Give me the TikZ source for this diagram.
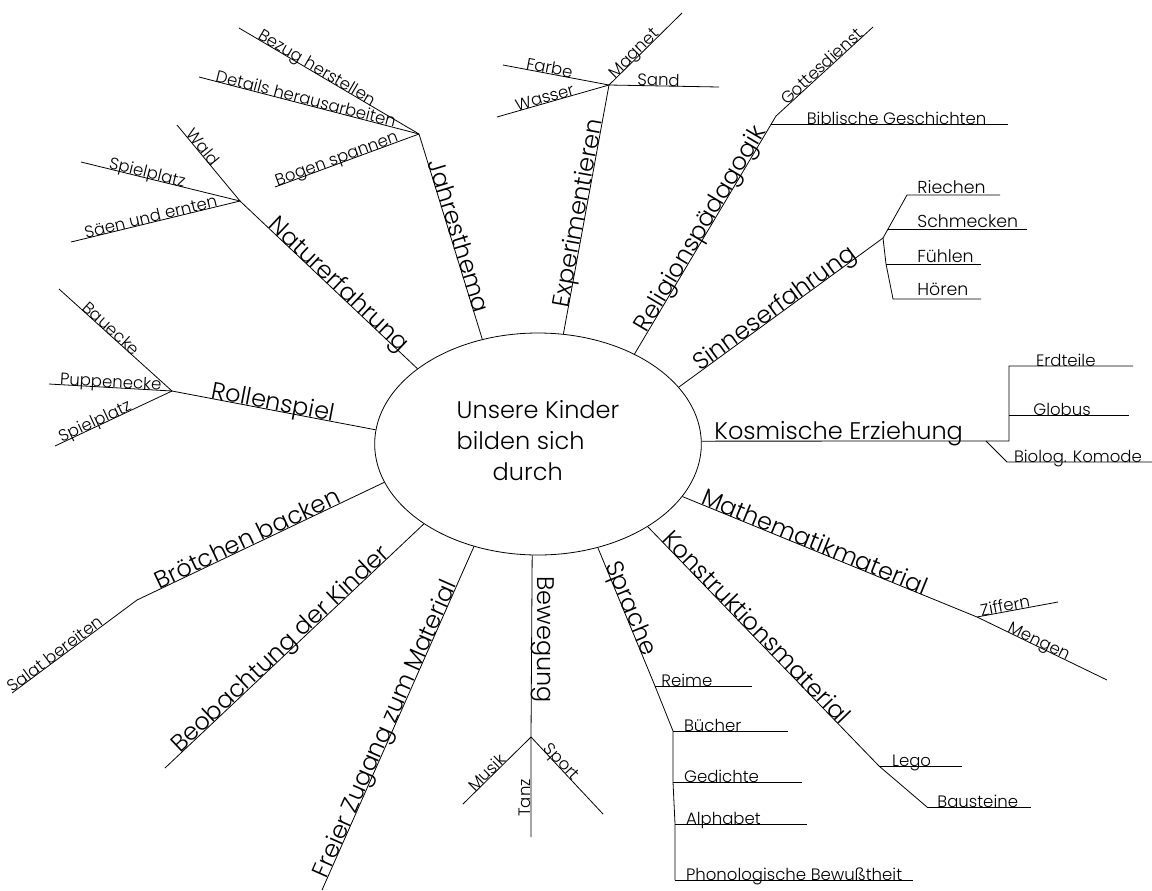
\documentclass[tikz,border=0pt]{standalone}
\usepackage{fontspec}
\IfFontExistsTF{Poppins Light}{\setmainfont{Poppins Light}}{\setmainfont{Poppins}}
\usetikzlibrary{shapes.geometric}
\tikzset{hub/.style = {draw, ellipse, minimum width = 245pt, minimum height = 166.5pt, inner sep = 0, align = left, font = \fontsize{18}{23.25}\selectfont}}
\tikzset{bough/.style = {inner sep = 0, font = \fontsize{18}{21}\selectfont}}
\tikzset{twig/.style = {inner sep = 0, font = \fontsize{12.4}{15}\selectfont}}
\tikzset{along/.style = {sloped, anchor = base}}
\tikzset{flat/.style = {anchor = base west}}

\begin{document}
\begin{tikzpicture}[x = 0.75pt, y = -0.75pt, line width = 0.6pt]
  \useasboundingbox (0, 0) rectangle (1152, 890);
  \node [hub] (hub) at (538, 444) {Unsere Kinder\\bilden sich\\\hspace*{27pt}durch\vspace*{5pt}};

  % Jahresthema
  \coordinate (J1) at (419, 134);
  \coordinate (JBz) at (239, 28);
  \coordinate (JDt) at (199, 77);
  \coordinate (JBg) at (275, 187);
  \draw (J1) -- node (lJ) [bough, along, pos = 0.51] {Jahresthema} (hub.118);
  \draw (JBz) -- node (lJBz) [twig, along, pos = 0.42] {Bezug herstellen} (J1);
  \draw (JDt) -- node (lJDt) [twig, along, pos = 0.48] {Details herausarbeiten} (J1);
  \draw (JBg) -- node (lJBg) [twig, along, pos = 0.44] {Bogen spannen} (J1);

  % Naturerfahrung
  \coordinate (N1) at (240, 201);
  \coordinate (NWd) at (177, 125);
  \coordinate (NSp) at (81, 162);
  \coordinate (NSa) at (71, 242);
  \draw (N1) -- node (lN) [bough, along, pos = 0.53] {Naturerfahrung} (hub.148.5);
  \draw (NWd) -- node (lNWd) [twig, along, pos = 0.34] {Wald} (N1);
  \draw (NSp) -- node (lNSp) [twig, along, pos = 0.41] {Spielplatz} (N1);
  \draw (NSa) -- node (lNSa) [twig, along, pos = 0.48] {Säen und ernten} (N1);

  % Rollenspiel
  \coordinate (R1) at (172, 391);
  \coordinate (RBa) at (59, 289);
  \coordinate (RPu) at (49, 384);
  \coordinate (RSp) at (55, 446);
  \draw (R1) -- node (lR) [bough, along, pos = 0.49] {Rollenspiel} (hub.175);
  \draw (RBa) -- node (lRBa) [twig, along, pos = 0.43] {Bauecke} (R1);
  \draw (RPu) -- node (lRPu) [twig, along, pos = 0.5] {Puppenecke} (R1);
  \draw (RSp) -- node (lRSp) [twig, along, pos = 0.36] {Spielplatz} (R1);

  % Broetchen backen
  \coordinate (B1) at (137, 600);
  \coordinate (BSa) at (12, 693);
  \draw (B1) -- node (lB) [bough, along, pos = 0.46] {Brötchen backen} (hub.194.7);
  \draw (BSa) -- node (lBSa) [twig, along, pos = 0.37] {Salat bereiten} (B1);

  % Beobachtung, freier Zugang
  \coordinate (O1) at (165, 768);
  \coordinate (F1) at (322, 890);
  \draw (O1) -- node (lO) [bough, along, pos = 0.465] {Beobachtung der Kinder} (hub.215.1);
  \draw (F1) -- node (lF) [bough, along, pos = 0.46] {Freier Zugang zum Material} (hub.238.7);

  % Bewegung
  \coordinate (W1) at (531, 737);
  \coordinate (W2) at (531, 837);
  \coordinate (WMu) at (463, 804);
  \coordinate (WSp) at (603, 814);
  \draw (hub.267.6) -- (W1) -- (W2);
  \node (lW) [bough, flat, rotate = -90] at (537, 576) {Bewegung};
  \node (lWTa) [twig, flat, rotate = 90] at (530, 817) {Tanz};
  \draw (WMu) -- node (lWMu) [twig, along, pos = 0.41] {Musik} (W1);
  \draw (W1) -- node (lWSp) [twig, along, pos = 0.37] {Sport} (WSp);

  % Sprache
  \coordinate (SRe) at (655, 686);
  \coordinate (SReE) at (752, 686);
  \coordinate (SPh) at (675, 880);
  \draw (hub.300.4) -- node (lS) [bough, along, pos = 0.46] {Sprache} (SRe);
  \draw (SRe) -- node (lSRe) [twig, flat, at start, xshift = 4.5pt] {Reime} (SReE);
  \foreach \nm/\y/\xa/\xb/\txt in {Bu/731/673/788/Bücher, Ge/782/673/802/Gedichte,
      Al/824/675/807/Alphabet, Ph/880/675/913/{Phonologische Bewußtheit}} {
    \coordinate (S\nm) at (\xa, \y);
    \coordinate (S\nm E) at (\xb, \y);
    \draw (S\nm) -- node (lS\nm) [twig, flat, at start, xshift = 8pt] {\txt} (S\nm E);
  }
  \draw (SRe) -- (SBu) -- (SGe) -- (SAl) -- (SPh);

  % Konstruktionsmaterial
  \coordinate (K1) at (879, 766);
  \coordinate (K2) at (927, 807);
  \coordinate (KLe) at (962, 766);
  \coordinate (KBa) at (1031, 807);
  \draw (hub.323.1) -- node (lK) [bough, along, pos = 0.445] {Konstruktionsmaterial} (K1) -- (K2);
  \draw (K1) -- node (lKLe) [twig, flat, at start, xshift = 9.5pt] {Lego} (KLe);
  \draw (K2) -- node (lKBa) [twig, flat, at start, xshift = 7.5pt] {Bausteine} (KBa);

  % Mathematikmaterial
  \coordinate (M1) at (977, 617);
  \coordinate (M2) at (1107, 680);
  \coordinate (MZi) at (1058, 602);
  \draw (hub.340.9) -- node (lM) [bough, along, pos = 0.44] {Mathematikmaterial} (M1)
    -- node (lMMe) [twig, along, pos = 0.46] {Mengen} (M2);
  \draw (M1) -- node (lMZi) [twig, along, pos = 0.36] {Ziffern} (MZi);

  % Kosmische Erziehung
  \coordinate (E1) at (1009, 441);
  \coordinate (EEr) at (1009, 366);
  \coordinate (EErE) at (1133, 366);
  \coordinate (EGl) at (1009, 415);
  \coordinate (EGlE) at (1129, 415);
  \coordinate (EBi) at (986, 441);
  \coordinate (EBi1) at (1007, 462);
  \coordinate (EBiE) at (1152, 462);
  \draw (hub.1.1) -- (E1) -- (EEr) -- node (lEEr) [twig, flat, at start, xshift = 20pt] {Erdteile} (EErE);
  \node (lE) [bough, flat] at (714, 439) {Kosmische Erziehung};
  \draw (EGl) -- node (lEGl) [twig, flat, at start, xshift = 18pt] {Globus} (EGlE);
  \draw (EBi) -- (EBi1) -- node (lEBi) [twig, flat, at start, xshift = 5pt] {Biolog. Komode} (EBiE);

  % Sinneserfahrung
  \coordinate (SN1) at (883, 238);
  \coordinate (SNa) at (888, 229);
  \coordinate (SNr) at (907, 195);
  \coordinate (SNrE) at (1000, 195);
  \coordinate (SNaE) at (1027, 229);
  \coordinate (SNf) at (886, 264);
  \coordinate (SNfE) at (981, 264);
  \coordinate (SNh) at (893, 299);
  \coordinate (SNhE) at (981, 299);
  \draw (hub.22.4) -- node (lSN) [bough, along, pos = 0.49] {Sinneserfahrung} (SN1);
  \draw (SN1) -- (SNa) -- (SNr) -- (SNrE);
  \draw (SNa) -- (SNaE);
  \draw (SN1) -- (SNf) -- (SNh) -- (SNhE);
  \draw (SNf) -- (SNfE);
  \node (lSNr) [twig, flat, font = \fontsize{13}{15}\selectfont] at (917, 193) {Riechen};
  \node (lSNa) [twig, flat, font = \fontsize{13}{15}\selectfont] at (917, 227) {Schmecken};
  \node (lSNf) [twig, flat, font = \fontsize{13}{15}\selectfont] at (917, 262) {Fühlen};
  \node (lSNh) [twig, flat, font = \fontsize{13}{15}\selectfont] at (917, 295) {Hören};

  % Religionspaedagogik
  \coordinate (G1) at (776, 116);
  \coordinate (GGo) at (873, 27);
  \coordinate (GBi) at (771, 124);
  \coordinate (GBiE) at (1008, 124);
  \draw (hub.43.8) -- node (lG) [bough, along, pos = 0.51] {Religionspädagogik} (G1)
    -- node (lGGo) [twig, along, pos = 0.51] {Gottesdienst} (GGo);
  \draw (GBi) -- node (lGBi) [twig, along, pos = 0.53] {Biblische Geschichten} (GBiE);

  % Experimentieren
  \coordinate (X1) at (609, 85);
  \coordinate (XFa) at (503, 65);
  \coordinate (XWa) at (497, 117);
  \coordinate (XMa) at (682, 13);
  \coordinate (XSa) at (719, 87);
  \draw (hub.77.5) -- node (lX) [bough, along, pos = 0.48] {Experimentieren} (X1);
  \draw (XFa) -- node (lXFa) [twig, along, pos = 0.43] {Farbe} (X1);
  \draw (XWa) -- node (lXWa) [twig, along, pos = 0.44] {Wasser} (X1);
  \draw (X1) -- node (lXMa) [twig, along, pos = 0.39] {Magnet} (XMa);
  \draw (X1) -- node (lXSa) [twig, along, pos = 0.45] {Sand} (XSa);
\end{tikzpicture}
\end{document}
